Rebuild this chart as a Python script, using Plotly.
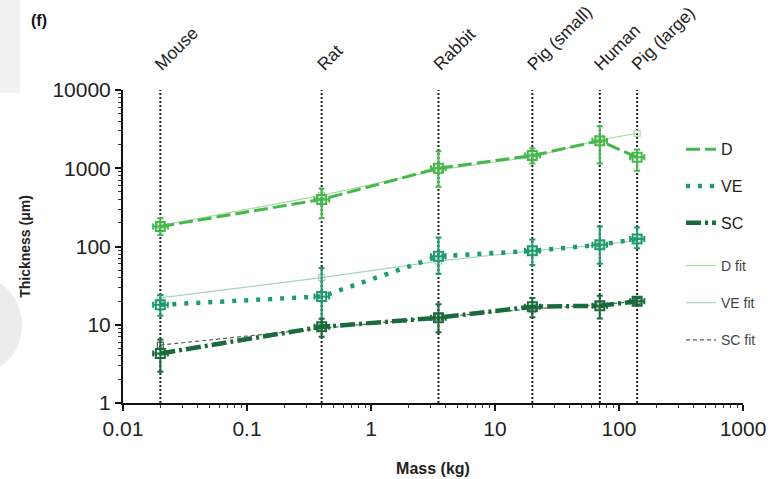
import numpy as np
import plotly.graph_objects as go

species = ["Mouse", "Rat", "Rabbit", "Pig (small)", "Human", "Pig (large)"]
mass = [0.02, 0.4, 3.5, 20, 70, 140]
mass_err_plus = [0.003, 0.06, 0.5, 3, 10, 20]
mass_err_minus = [0.0025, 0.05, 0.45, 2.6, 9, 17]

D = [180, 400, 1000, 1450, 2250, 1380]
D_err_plus = [50, 150, 650, 350, 1200, 350]
D_err_minus = [40, 170, 420, 300, 1100, 450]
D_fit = [185, 450, 950, 1400, 2300, 2800]

VE = [18, 23, 75, 88, 105, 125]
VE_err_plus = [6, 30, 55, 35, 75, 50]
VE_err_minus = [5, 13, 30, 30, 45, 30]
VE_fit = [22, 40, 65, 88, 105, 120]

SC = [4.3, 9.4, 12.3, 17, 17.5, 20]
SC_err_plus = [2.2, 2.5, 6, 5, 6, 2]
SC_err_minus = [1.8, 2.4, 4.3, 4.5, 5.5, 2]
SC_fit = [5.5, 9, 12.5, 16, 18, 20]

x_ticks = [0.01, 0.1, 1, 10, 100, 1000]
x_ticktext = ["0.01", "0.1", "1", "10", "100", "1000"]
y_ticks = [1, 10, 100, 1000, 10000]
y_ticktext = ["1", "10", "100", "1000", "10000"]

C_D = "#45b84c"
C_VE = "#1f9a6c"
C_SC = "#1a6b3c"
C_DFIT = "#a9dba6"
C_VEFIT = "#a7d3c6"
C_SCFIT = "#55645a"

FONT = "Liberation Sans, Arial, Helvetica, sans-serif"

fig = go.Figure()


def add_series(name, y, ep, em, color, dash, width, legend, msize, mline, errors=True):
    # the line (this is what the legend shows)
    fig.add_trace(go.Scatter(
        x=mass, y=y, name=name, mode="lines",
        line=dict(color=color, width=width, dash=dash),
        legend=legend, legendgroup=name,
    ))
    # markers and error bars
    kw = {}
    if errors:
        kw["error_y"] = dict(type="data", array=ep, arrayminus=em, color=color, thickness=2, width=3)
        kw["error_x"] = dict(type="data", array=mass_err_plus, arrayminus=mass_err_minus,
                             color=color, thickness=2, width=3)
    fig.add_trace(go.Scatter(
        x=mass, y=y, name=name, mode="markers", showlegend=False, legendgroup=name,
        marker=dict(symbol="square-open", size=msize, color=color, line=dict(width=mline, color=color)),
        **kw,
    ))


add_series("D fit", D_fit, None, None, C_DFIT, "solid", 1.2, "legend2", 6, 1.2, errors=False)
add_series("VE fit", VE_fit, None, None, C_VEFIT, "solid", 1.2, "legend2", 6, 1.2, errors=False)
add_series("SC fit", SC_fit, None, None, C_SCFIT, "4px,3px", 1.2, "legend2", 6, 1.2, errors=False)
add_series("D", D, D_err_plus, D_err_minus, C_D, "14px,5px", 3, "legend", 9, 2)
add_series("VE", VE, VE_err_plus, VE_err_minus, C_VE, "4px,8px", 4.5, "legend", 9, 2)
add_series("SC", SC, SC_err_plus, SC_err_minus, C_SC, "15px,4px,3px,4px", 4.5, "legend", 9, 2)

# vertical dotted reference lines and species labels
for sp, m in zip(species, mass):
    fig.add_vline(x=m, line=dict(color="#222222", width=2, dash="2px,2px"), layer="below")
    fig.add_annotation(
        x=np.log10(m), y=1, xref="x", yref="paper", text=sp, showarrow=False,
        textangle=-45, xanchor="left", yanchor="bottom", xshift=-12, yshift=13,
        font=dict(family=FONT, size=17.5, color="#222222"),
    )

# plot area in screen px: x 123..743, y 90..403
def px_x(X):
    return (X - 123) / 620.0


def px_y(Y):
    return (403 - Y) / 313.0


# panel label
fig.add_annotation(x=px_x(29), y=px_y(20), xref="paper", yref="paper", xanchor="left", yanchor="middle",
                   text="<b>(f)</b>", showarrow=False, font=dict(family=FONT, size=16, color="#111111"))

# background artifacts of the source figure
fig.add_shape(type="rect", xref="paper", yref="paper", x0=px_x(-10), x1=px_x(20), y0=px_y(93), y1=px_y(-10),
              fillcolor="#f1f1f1", line=dict(width=0), layer="below")
fig.add_shape(type="circle", xref="paper", yref="paper", x0=px_x(-74), x1=px_x(22), y0=px_y(375), y1=px_y(275),
              fillcolor="#ececec", line=dict(width=0), layer="below")

axis_common = dict(
    type="log", showgrid=False, zeroline=False, showline=True, linecolor="#111111", linewidth=2,
    ticks="outside", ticklen=6, tickwidth=2, tickcolor="#111111", automargin=False,
    tickfont=dict(family=FONT, size=21, color="#222222"),
    minor=dict(ticks="outside", ticklen=3, tickwidth=1, tickcolor="#333333", dtick="D1"),
)

fig.update_layout(
    width=784, height=479,
    margin=dict(l=123, r=41, t=90, b=76, autoexpand=False),
    paper_bgcolor="white", plot_bgcolor="white",
    font=dict(family=FONT, color="#222222"),
    xaxis=dict(range=[-2, 3], tickvals=x_ticks, ticktext=x_ticktext,
               title=dict(text="<b>Mass (kg)</b>", font=dict(family=FONT, size=16, color="#222222"), standoff=24),
               **axis_common),
    yaxis=dict(range=[0, 4], tickvals=y_ticks, ticktext=y_ticktext,
               title=dict(text="<b>Thickness (μm)</b>", font=dict(family=FONT, size=14, color="#222222"), standoff=18),
               **axis_common),
    legend=dict(x=0.90, y=0.865, xanchor="left", yanchor="top", bgcolor="rgba(0,0,0,0)",
                font=dict(family=FONT, size=16, color="#222222"), tracegroupgap=13,
                itemwidth=30, traceorder="grouped"),
    legend2=dict(x=0.90, y=0.489, xanchor="left", yanchor="top", bgcolor="rgba(0,0,0,0)",
                 font=dict(family=FONT, size=14, color="#444444"), tracegroupgap=16,
                 itemwidth=30, traceorder="grouped"),
    showlegend=True,
)

fig.write_html("out.html",
               config={"displayModeBar": False},
               post_script="document.body.style.margin='0';document.body.style.overflow='hidden';")
